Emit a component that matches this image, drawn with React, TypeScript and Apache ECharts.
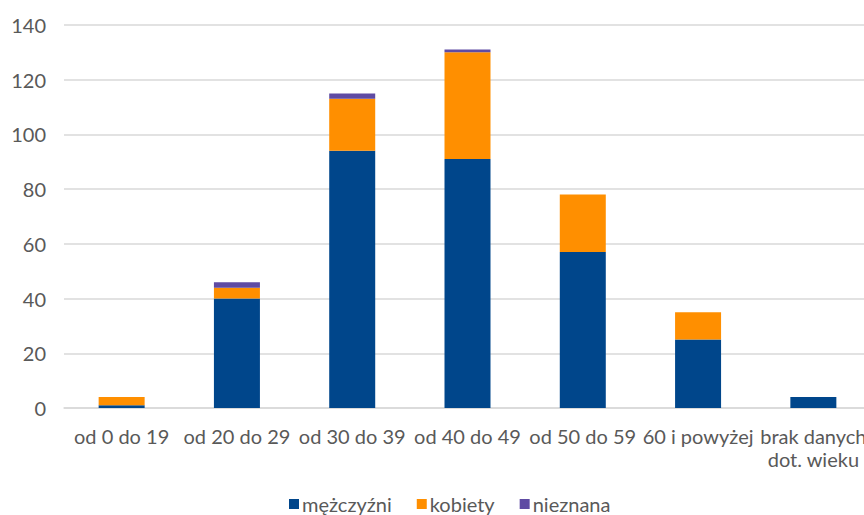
import React, { useEffect, useRef } from "react";
import * as echarts from "echarts";

// Age groups on the category axis
const ageGroups = [
  "od 0 do 19",
  "od 20 do 29",
  "od 30 do 39",
  "od 40 do 49",
  "od 50 do 59",
  "60 i powyżej",
  "brak danych\ndot. wieku",
];

// Counts per group, stacked
const men = [1, 40, 94, 91, 57, 25, 4];
const women = [3, 4, 19, 39, 21, 10, 0];
const unknown = [0, 2, 2, 1, 0, 0, 0];

const seriesNames = ["mężczyźni", "kobiety", "nieznana"];
const seriesColors = ["#00468B", "#FF8F00", "#5F4BA3"];

const yMax = 140;
const yStep = 20;

const FONT = "Lato, 'Liberation Sans', sans-serif";
const TEXT = "#595959";

export default function App() {
  const ref = useRef<HTMLDivElement>(null);

  useEffect(() => {
    if (!ref.current) return;
    const chart = echarts.init(ref.current, undefined, { renderer: "svg" });
    const values = [men, women, unknown];
    chart.setOption({
      animation: false,
      textStyle: { fontFamily: FONT },
      grid: { left: 64, right: 0, top: 25, bottom: 107, containLabel: false },
      legend: {
        data: seriesNames,
        left: 284,
        top: 489,
        icon: "rect",
        itemWidth: 10,
        itemHeight: 10,
        itemGap: 25,
        textStyle: { color: TEXT, fontSize: 20, fontFamily: FONT, padding: [0, 0, 0, -2] },
      },
      xAxis: {
        type: "category",
        data: ageGroups,
        axisTick: { show: false },
        axisLine: { lineStyle: { color: "#d9d9d9", width: 1.5 } },
        axisLabel: {
          color: TEXT,
          fontSize: 20,
          fontFamily: FONT,
          margin: 16,
          lineHeight: 23,
          interval: 0,
        },
      },
      yAxis: {
        type: "value",
        min: 0,
        max: yMax,
        interval: yStep,
        axisLine: { show: false },
        axisTick: { show: false },
        splitLine: { lineStyle: { color: "#d9d9d9", width: 1.5 } },
        axisLabel: { color: TEXT, fontSize: 20, fontFamily: FONT, margin: 18 },
      },
      series: seriesNames.map((name, i) => ({
        name,
        type: "bar",
        stack: "total",
        data: values[i],
        barWidth: 46,
        itemStyle: { color: seriesColors[i] },
      })),
    });
    return () => chart.dispose();
  }, []);

  return (
    <div
      style={{
        position: "fixed",
        left: 0,
        top: 0,
        width: 864,
        height: 515,
        overflow: "hidden",
        background: "#fff",
      }}
    >
      <div ref={ref} style={{ width: 871, height: 515 }} />
    </div>
  );
}
